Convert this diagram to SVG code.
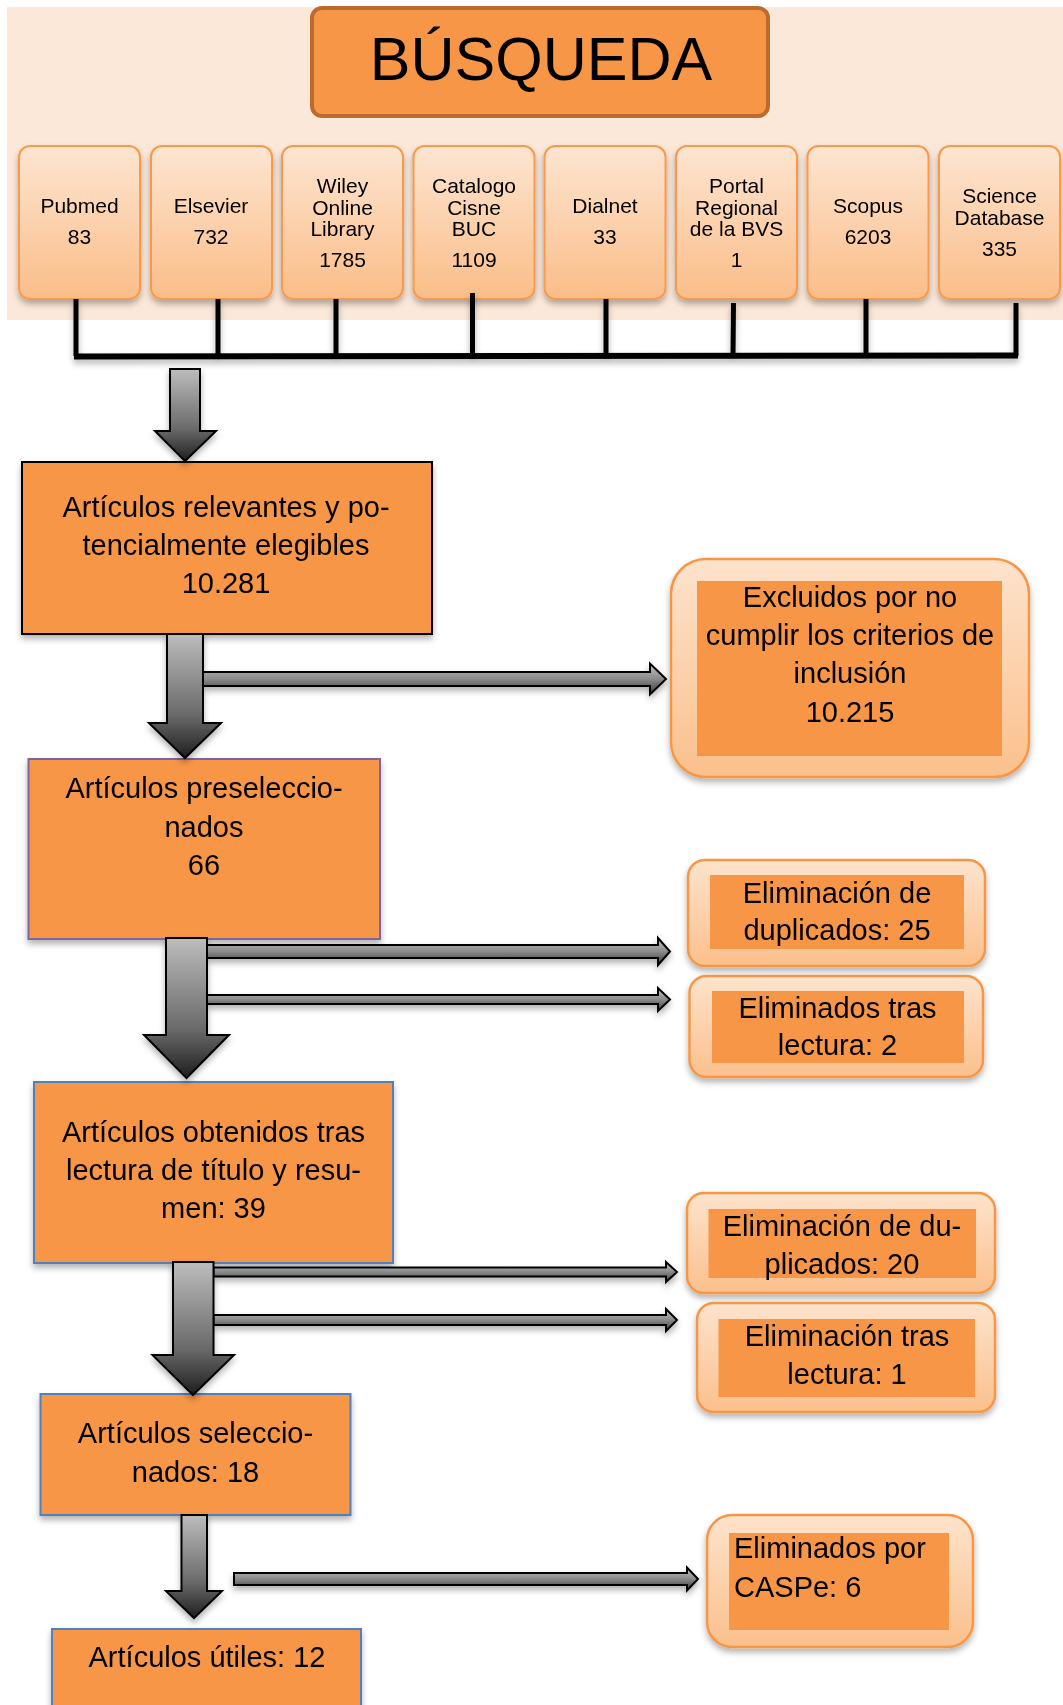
<svg xmlns="http://www.w3.org/2000/svg" width="1063" height="1705" viewBox="0 0 1063 1705">
<defs>
<linearGradient id="srcGrad" x1="0" y1="0" x2="0" y2="1">
<stop offset="0" stop-color="#FDE5D1"/>
<stop offset="1" stop-color="#FBBD88"/>
</linearGradient>
<linearGradient id="outGrad" x1="0" y1="0" x2="0" y2="1">
<stop offset="0" stop-color="#FDE3CC"/>
<stop offset="1" stop-color="#FBC08C"/>
</linearGradient>
<linearGradient id="vArrow" x1="0" y1="0" x2="0" y2="1">
<stop offset="0" stop-color="#BDBDBD"/>
<stop offset="0.65" stop-color="#6A6A6A"/>
<stop offset="1" stop-color="#1E1E1E"/>
</linearGradient>
<linearGradient id="hArrow" x1="0" y1="0" x2="0" y2="1">
<stop offset="0" stop-color="#C4C4C4"/>
<stop offset="0.5" stop-color="#8A8A8A"/>
<stop offset="1" stop-color="#3A3A3A"/>
</linearGradient>
<filter id="sh" x="-10%" y="-10%" width="125%" height="130%">
<feDropShadow dx="0" dy="4" stdDeviation="3" flood-color="#000" flood-opacity="0.3"/>
</filter>
</defs>
<style>
.src{fill:url(#srcGrad);stroke:#F79A4E;stroke-width:2}
.st{font-family:"Liberation Sans",Arial,sans-serif;font-size:21px;fill:#000;text-anchor:middle}
.bt{font-family:"Liberation Sans",Arial,sans-serif;font-size:29px;fill:#000;text-anchor:middle}
.main{fill:#F79646;stroke-width:2}
.out{fill:url(#outGrad);stroke:#F79646;stroke-width:2.5}
.inner{fill:#F79646}
.va{fill:url(#vArrow);stroke:#000;stroke-width:2;stroke-linejoin:miter}
.ha{fill:url(#hArrow);stroke:#000;stroke-width:2}
.ln{stroke:#000;stroke-width:5;fill:none}
</style>

<rect x="7" y="7" width="1056" height="313" fill="#FCE8D9"/>

<g id="busqueda">
<rect x="312" y="8" width="456" height="108" rx="10" fill="#F79646" stroke="#BC6B2D" stroke-width="4"/>
<text x="541" y="80" font-family="Liberation Sans, Arial, sans-serif" font-size="61" text-anchor="middle" fill="#000">BÚSQUEDA</text>
</g>

<g id="pubmed" filter="url(#sh)"><rect class="src" x="19" y="146" width="121" height="153" rx="11"/>
<text class="st" x="79.5" y="213">Pubmed</text><text class="st" x="79.5" y="244">83</text></g>
<g id="elsevier" filter="url(#sh)"><rect class="src" x="151" y="146" width="121" height="153" rx="11"/>
<text class="st" x="211" y="213">Elsevier</text><text class="st" x="211" y="244">732</text></g>
<g id="wiley" filter="url(#sh)"><rect class="src" x="282" y="146" width="121" height="153" rx="11"/>
<text class="st" x="342.5" y="193">Wiley</text><text class="st" x="342.5" y="214.5">Online</text><text class="st" x="342.5" y="236">Library</text><text class="st" x="342.5" y="267">1785</text></g>
<g id="catalogo" filter="url(#sh)"><rect class="src" x="413.5" y="146" width="121" height="153" rx="11"/>
<text class="st" x="474" y="193">Catalogo</text><text class="st" x="474" y="214.5">Cisne</text><text class="st" x="474" y="236">BUC</text><text class="st" x="474" y="267">1109</text></g>
<g id="dialnet" filter="url(#sh)"><rect class="src" x="544.5" y="146" width="121" height="153" rx="11"/>
<text class="st" x="605" y="213">Dialnet</text><text class="st" x="605" y="244">33</text></g>
<g id="portal" filter="url(#sh)"><rect class="src" x="676" y="146" width="121" height="153" rx="11"/>
<text class="st" x="736.5" y="193">Portal</text><text class="st" x="736.5" y="214.5">Regional</text><text class="st" x="736.5" y="236">de la BVS</text><text class="st" x="736.5" y="267">1</text></g>
<g id="scopus" filter="url(#sh)"><rect class="src" x="807.5" y="146" width="121" height="153" rx="11"/>
<text class="st" x="868" y="213">Scopus</text><text class="st" x="868" y="244">6203</text></g>
<g id="science" filter="url(#sh)"><rect class="src" x="939" y="146" width="121" height="153" rx="11"/>
<text class="st" x="999.5" y="203">Science</text><text class="st" x="999.5" y="225">Database</text><text class="st" x="999.5" y="256">335</text></g>

<g id="b1" filter="url(#sh)"><rect class="main" x="22" y="462" width="410" height="172" stroke="#000"/>
<text class="bt" x="226" y="517">Artículos relevantes y po-</text><text class="bt" x="226" y="555">tencialmente elegibles</text><text class="bt" x="226" y="593">10.281</text></g>
<g id="b2" filter="url(#sh)"><rect class="main" x="28.5" y="759" width="351.5" height="180" stroke="#8064A2"/>
<text class="bt" x="204" y="798">Artículos preseleccio-</text><text class="bt" x="204" y="837">nados</text><text class="bt" x="204" y="875">66</text></g>
<g id="b3" filter="url(#sh)"><rect class="main" x="34" y="1082" width="359" height="181" stroke="#4F81BD"/>
<text class="bt" x="213.5" y="1142">Artículos obtenidos tras</text><text class="bt" x="213.5" y="1180">lectura de título y resu-</text><text class="bt" x="213.5" y="1218">men: 39</text></g>
<g id="b4" filter="url(#sh)"><rect class="main" x="40.5" y="1394" width="310" height="121" stroke="#4F81BD"/>
<text class="bt" x="195.5" y="1443">Artículos seleccio-</text><text class="bt" x="195.5" y="1482">nados: 18</text></g>
<g id="b5" filter="url(#sh)"><rect class="main" x="52" y="1629" width="309" height="90" stroke="#4F81BD"/>
<text class="bt" x="207" y="1667">Artículos útiles: 12</text></g>

<g id="excluidos" filter="url(#sh)"><rect class="out" x="671" y="559" width="358" height="218" rx="35"/>
<rect class="inner" x="697" y="581" width="305" height="175"/>
<text class="bt" x="850" y="607">Excluidos por no</text><text class="bt" x="850" y="645">cumplir los criterios de</text><text class="bt" x="850" y="683">inclusión</text><text class="bt" x="850" y="722">10.215</text></g>
<g id="dup25" filter="url(#sh)"><rect class="out" x="688" y="860" width="297" height="106" rx="17"/>
<rect class="inner" x="710" y="875" width="254" height="74"/>
<text class="bt" x="837" y="902.5">Eliminación de</text><text class="bt" x="837" y="940">duplicados: 25</text></g>
<g id="lect2" filter="url(#sh)"><rect class="out" x="689.5" y="976" width="293.5" height="101" rx="17"/>
<rect class="inner" x="712" y="991" width="252" height="72"/>
<text class="bt" x="837.5" y="1018">Eliminados tras</text><text class="bt" x="837.5" y="1055">lectura: 2</text></g>
<g id="dup20" filter="url(#sh)"><rect class="out" x="687" y="1193" width="308" height="100" rx="17"/>
<rect class="inner" x="708.5" y="1209" width="267.5" height="69"/>
<text class="bt" x="842" y="1236">Eliminación de du-</text><text class="bt" x="842" y="1274">plicados: 20</text></g>
<g id="lect1" filter="url(#sh)"><rect class="out" x="697" y="1303" width="298" height="109" rx="17"/>
<rect class="inner" x="718.5" y="1319" width="256.5" height="78"/>
<text class="bt" x="847" y="1346">Eliminación tras</text><text class="bt" x="847" y="1384">lectura: 1</text></g>
<g id="caspe" filter="url(#sh)"><rect class="out" x="707" y="1515" width="266" height="132" rx="25"/>
<rect class="inner" x="729" y="1533" width="220" height="97"/>
<text class="bt" x="734" y="1558" text-anchor="start" style="text-anchor:start">Eliminados por</text><text class="bt" x="734" y="1597" style="text-anchor:start">CASPe: 6</text></g>

<g id="connectors">
<g filter="url(#sh)">
<line class="ln" x1="76" y1="299" x2="76" y2="356"/>
<line class="ln" x1="218" y1="299" x2="218" y2="356"/>
<line class="ln" x1="336" y1="299" x2="336" y2="356"/>
<line class="ln" x1="472.5" y1="293" x2="472.5" y2="356"/>
<line class="ln" x1="606" y1="299" x2="606" y2="356"/>
<line class="ln" x1="733.5" y1="303" x2="733" y2="356"/>
<line class="ln" x1="866" y1="299" x2="866" y2="356"/>
<line class="ln" x1="1016" y1="303" x2="1016" y2="356"/>
<line x1="74" y1="356.5" x2="1018" y2="355.5" stroke="#000" stroke-width="6"/>
</g>
<g filter="url(#sh)">
<path class="va" d="M170,369 H200 V431 H216 L185,461 L155,431 H170 Z"/>
<path class="ha" d="M202,672 H650 V663.5 L666,679 L650,694.5 V686 H202 Z"/>
<path class="va" d="M167,634 H203 V723 H221 L185,758 L149,723 H167 Z"/>
<path class="ha" d="M207,945 H658 V938 L670,951.5 L658,965 V958 H207 Z"/>
<path class="ha" d="M207,995 H658 V988 L670,999.5 L658,1011 V1004 H207 Z"/>
<path class="va" d="M166,938 H207 V1035 H229 L186.5,1078 L144,1035 H166 Z"/>
<path class="ha" d="M213.5,1267.5 H666 V1262 L677,1272 L666,1282 V1276.5 H213.5 Z"/>
<path class="ha" d="M213.5,1315 H666 V1309 L677,1320 L666,1331 V1325 H213.5 Z"/>
<path class="va" d="M173,1262 H213.5 V1355 H234 L193,1395 L152.5,1355 H173 Z"/>
<path class="va" d="M181.5,1515 H207 V1591 H222 L194,1618 L166,1591 H181.5 Z"/>
<path class="ha" d="M234,1573 H687 V1567.5 L698,1579 L687,1590.5 V1585 H234 Z"/>
</g>
</g>
</svg>
